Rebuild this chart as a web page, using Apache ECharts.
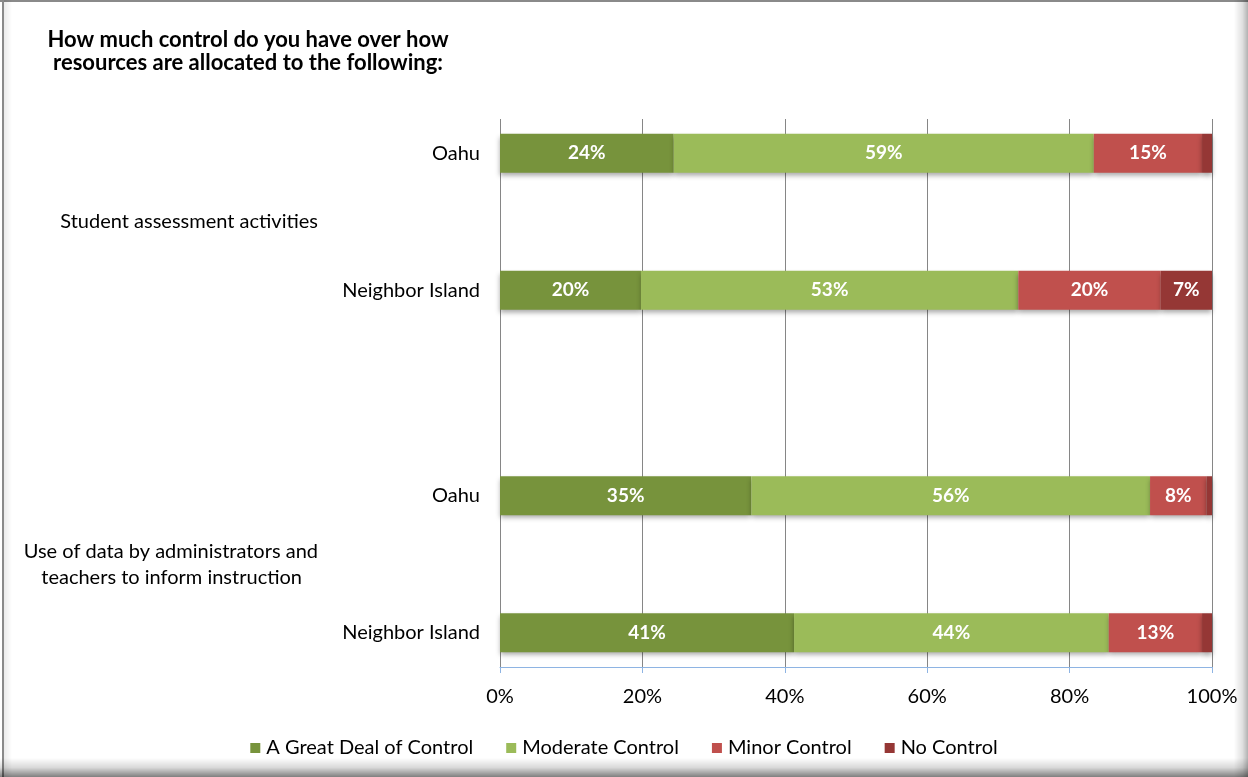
<!DOCTYPE html>
<html>
<head>
<meta charset="utf-8">
<script src="https://cdn.jsdelivr.net/npm/echarts@6/dist/echarts.min.js"></script>
<style>
html,body{margin:0;padding:0;background:#fff;}
#chart{position:absolute;left:0;top:0;width:1248px;height:777px;}
.edge{position:absolute;pointer-events:none;}
#top{left:0;top:0;width:1248px;height:2px;background:#8a8a8a;}
#left{left:2px;top:0;width:2px;height:777px;background:#8a8a8a;}
#leftfade{left:4px;top:0;width:8px;height:777px;background:linear-gradient(to right,rgba(0,0,0,0.08),rgba(0,0,0,0));}
#right{left:1234px;top:0;width:14px;height:777px;background:linear-gradient(to right,rgba(0,0,0,0),rgba(0,0,0,0.12) 60%,rgba(0,0,0,0.3));}
#bottom{left:0;top:758px;width:1248px;height:19px;background:linear-gradient(to bottom,rgba(0,0,0,0),rgba(0,0,0,0.15) 50%,rgba(0,0,0,0.5));}
</style>
</head>
<body>
<div id="chart"></div>
<div class="edge" id="top"></div>
<div class="edge" id="left"></div>
<div class="edge" id="leftfade"></div>
<div class="edge" id="right"></div>
<div class="edge" id="bottom"></div>
<script>
// ---- data ----
const titleText = 'How much control do you have over how\nresources are allocated to the following:';
const rowLabels = ['Oahu', 'Neighbor Island', 'Oahu', 'Neighbor Island'];
const groupLabels = [['Student assessment activities'], ['Use of data by administrators and', 'teachers to inform instruction']];
const seriesNames = ['A Great Deal of Control', 'Moderate Control', 'Minor Control', 'No Control'];
const greatDeal = [24.4, 19.8, 35.3, 41.3];
const moderate  = [59.0, 53.0, 56.0, 44.2];
const minor     = [15.2, 20.0, 7.9, 13.1];
const noControl = [1.4, 7.2, 0.8, 1.4];
const xTicks = [0, 20, 40, 60, 80, 100];

// ---- layout of category slots (rows with blank gaps between) ----
const rowSlots = [0, 2, 5, 7];
const groupSlots = [1, 6];
const slotCount = 8;

const rowAxis = [], groupAxis = [];
for (let i = 0; i < slotCount; i++) { rowAxis.push('s' + i); groupAxis.push('g' + i); }
const rowText = {}, groupText = {};
rowSlots.forEach((s, i) => rowText['s' + s] = rowLabels[i]);
groupSlots.forEach((s, i) => {
  const lines = groupLabels[i];
  groupText['g' + s] = lines.length === 1
    ? '{a|' + lines[0] + '}'
    : '{a|' + lines[0] + '}\n{b|' + lines[1] + '}';
});

function toSlots(arr) {
  const out = new Array(slotCount).fill('-');
  rowSlots.forEach((s, i) => out[s] = arr[i]);
  return out;
}

const colors = ['#77933C', '#9BBB59', '#C0504D', '#953735'];
const FONT = 'Lato';
const values = [greatDeal, moderate, minor, noControl];

const chart = echarts.init(document.getElementById('chart'), null, {renderer: 'canvas'});
chart.setOption({
  animation: false,
  backgroundColor: 'transparent',
  textStyle: {fontFamily: FONT},
  graphic: [{
    type: 'text',
    x: 248, y: 28,
    style: {
      text: titleText,
      fill: '#000',
      font: 'bold 22px ' + FONT,
      textAlign: 'center',
      textVerticalAlign: 'top',
      lineHeight: 23
    }
  }],
  legend: {
    data: seriesNames,
    left: 'center',
    top: 733,
    icon: 'rect',
    itemWidth: 10,
    itemHeight: 10,
    itemGap: 33,
    textStyle: {fontFamily: FONT, fontSize: 20, color: '#000', padding: [0, 0, 0, 1]}
  },
  grid: {left: 500, right: 36, top: 119, height: 548, containLabel: false},
  xAxis: {
    type: 'value',
    min: 0, max: 100, interval: 20,
    axisLine: {show: true, lineStyle: {color: '#8EB4E3', width: 1}},
    axisTick: {show: true, length: 6, lineStyle: {color: '#8EB4E3'}},
    splitLine: {show: true, lineStyle: {color: '#868686', width: 1}},
    axisLabel: {
      margin: 20, fontSize: 20, color: '#000', fontFamily: FONT,
      formatter: v => xTicks.indexOf(v) >= 0 ? v + '%' : ''
    }
  },
  yAxis: [{
    type: 'category',
    data: rowAxis,
    inverse: true,
    axisLine: {show: false},
    axisTick: {show: false},
    axisLabel: {
      margin: 20, fontSize: 20, color: '#000', fontFamily: FONT,
      formatter: v => rowText[v] || ''
    }
  }, {
    type: 'category',
    data: groupAxis,
    inverse: true,
    position: 'left',
    axisLine: {show: false},
    axisTick: {show: false},
    axisLabel: {
      margin: 182, fontSize: 20, color: '#000', fontFamily: FONT,
      align: 'right', lineHeight: 26,
      formatter: v => groupText[v] || '',
      rich: {
        a: {fontSize: 20, fontFamily: FONT, color: '#000', lineHeight: 26},
        b: {fontSize: 20, fontFamily: FONT, color: '#000', lineHeight: 26, padding: [0, 16, 0, 0]}
      }
    }
  }],
  series: seriesNames.map((name, k) => ({
    name: name,
    type: 'bar',
    stack: 'total',
    yAxisIndex: 0,
    barWidth: 39,
    data: toSlots(values[k]),
    itemStyle: {
      color: colors[k],
      shadowColor: 'rgba(0,0,0,0.35)',
      shadowBlur: 5,
      shadowOffsetY: 3
    },
    label: {
      show: true,
      position: 'inside',
      color: '#fff',
      fontWeight: 'bold',
      fontSize: 19,
      fontFamily: FONT,
      formatter: p => (p.value >= 5 ? Math.round(p.value) + '%' : '')
    }
  }))
});
</script>
</body>
</html>
